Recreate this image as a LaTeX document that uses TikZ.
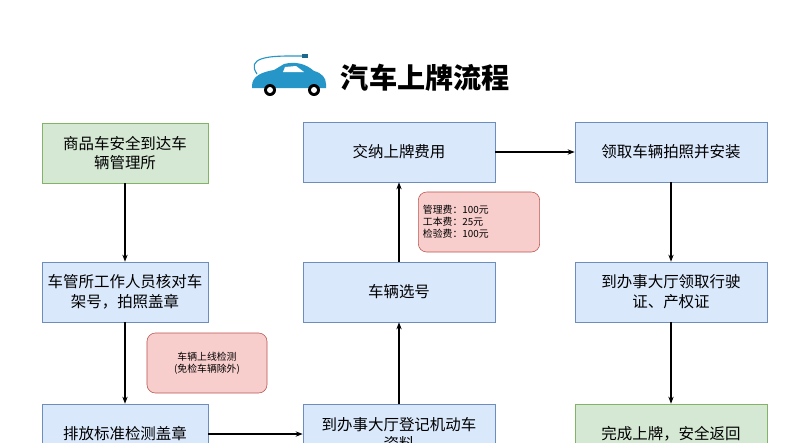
\documentclass[tikz,border=0pt]{standalone}
\usepackage{fontspec}
\setmainfont{Noto Sans CJK SC}
\usetikzlibrary{arrows.meta}
\definecolor{boxblue}{RGB}{218,232,252}
\definecolor{lineblue}{RGB}{108,142,191}
\definecolor{boxgreen}{RGB}{213,232,212}
\definecolor{linegreen}{RGB}{130,179,102}
\definecolor{notered}{RGB}{248,206,204}
\definecolor{linered}{RGB}{184,84,80}
\definecolor{carblue}{RGB}{38,150,200}

\begin{document}
\begin{tikzpicture}[x=0.025cm, y=-0.025cm,
    stage/.style={draw=lineblue, fill=boxblue, minimum width=4.8cm, minimum height=1.5cm, align=center, font=\fontsize{11}{14}\selectfont},
    wide/.style={stage, minimum width=4.15cm},
    done/.style={stage, draw=linegreen, fill=boxgreen},
    note/.style={draw=linered, fill=notered, rounded corners=6pt, minimum width=3cm, minimum height=1.5cm, font=\fontsize{7}{8.5}\selectfont},
    flow/.style={-{Stealth[length=5pt]}, thick}]
      \useasboundingbox (0,0) rectangle (800,442);

      % title with car icon
      \fill[carblue] (252,86) .. controls (252,76) and (262,72) .. (274,70) -- (284,64) .. controls (296,61) and (306,64) .. (314,71) .. controls (322,73) and (326,78) .. (326,84) -- (326,88) -- (252,88) -- cycle;
      \fill[white] (285,67) -- (296,66) -- (304,72) -- (283,72) -- cycle;
      \foreach \wx in {270,314} {
        \fill[black] (\wx,90) circle (6);
        \fill[white] (\wx,90) circle (3);
      }
      \draw[carblue, thick] (257,74) .. controls (246,58) and (268,56) .. (290,56) -- (302,56);
      \fill[carblue!70!black] (302,54) rectangle (308,58);
      \node[font=\fontsize{20}{24}\selectfont\bfseries, anchor=west] (title) at (336,78) {汽车上牌流程};

      % first column
      \node[done, minimum width=4.15cm] (arrive) at (125,153) {商品车安全到达车\\辆管理所};
      \node[wide] (check) at (125,292) {车管所工作人员核对车\\架号，拍照盖章};
      \node[wide] (emit) at (125,434) {排放标准检测盖章};

      % second column
      \node[stage] (pay) at (399,152) {交纳上牌费用};
      \node[stage] (pick) at (399,292) {车辆选号};
      \node[stage] (reg) at (399,434) {到办事大厅登记机动车\\资料};

      % third column
      \node[stage] (photo) at (671,152) {领取车辆拍照并安装};
      \node[stage] (cert) at (671,292) {到办事大厅领取行驶\\证、产权证};
      \node[done, minimum width=4.8cm] (finish) at (671,434) {完成上牌，安全返回};

      % notes
      \node[note, align=center] (test) at (207,363) {车辆上线检测\\(免检车辆除外)};
      \node[note, align=left, text width=2.8cm] (fee) at (479,222) {管理费：100元\\工本费：25元\\检验费：100元};

      \draw[flow] (arrive) -- (check);
      \draw[flow] (check) -- (emit);
      \draw[flow] (emit) -- (reg);
      \draw[flow] (reg) -- (pick);
      \draw[flow] (pick) -- (pay);
      \draw[flow] (pay) -- (photo);
      \draw[flow] (photo) -- (cert);
      \draw[flow] (cert) -- (finish);
\end{tikzpicture}
\end{document}
